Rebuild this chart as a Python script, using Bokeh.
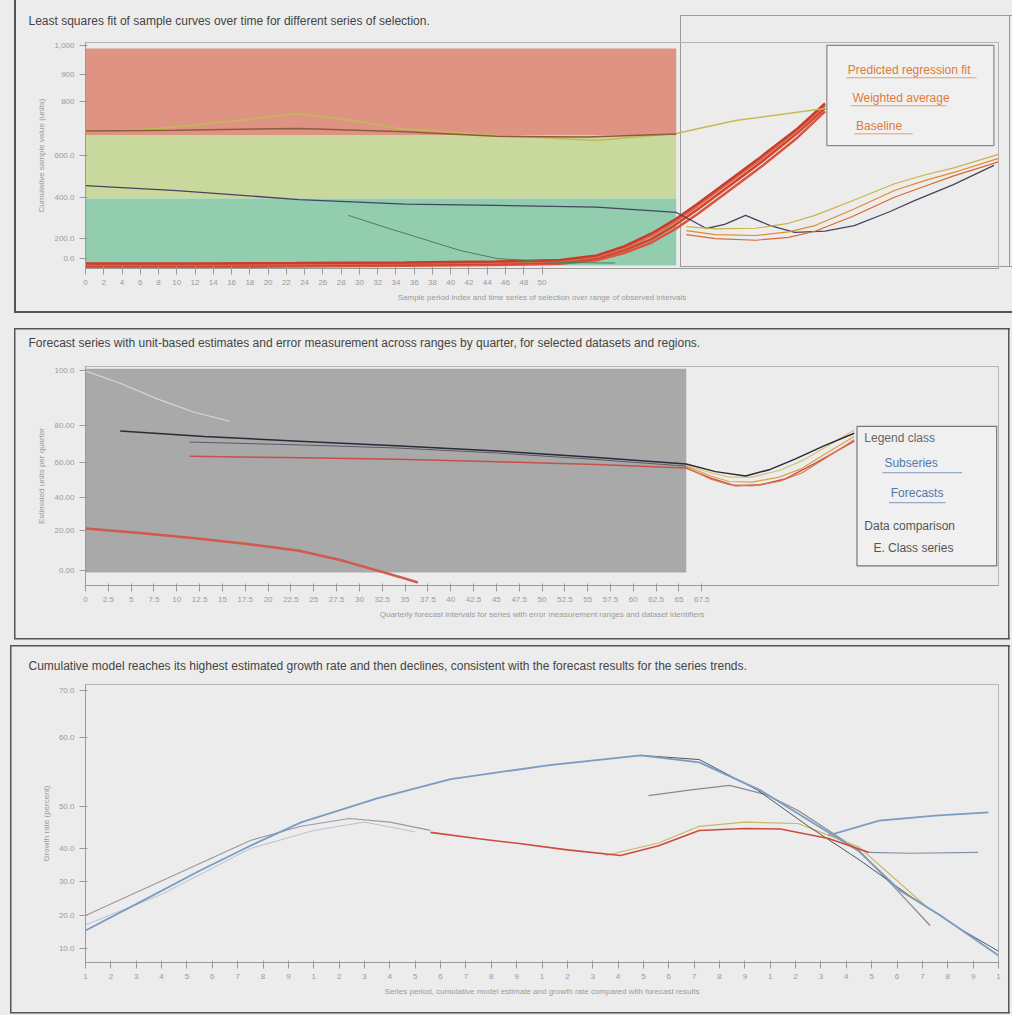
from bokeh.plotting import figure
from bokeh.layouts import column
from bokeh.models import FixedTicker, ColumnDataSource
from bokeh.embed import file_html
from bokeh.resources import INLINE
from bokeh.core.properties import value

BG = "#ececec"
FONT = "Liberation Sans"

# ---------------- Panel 1 data ----------------
p1_title = "Least squares fit of sample curves over time for different series of selection."
p1_band_left = [0, 0, 0]
p1_band_right = [64.7, 64.7, 64.7]
p1_band_top = [97.3, 58.8, 31.0]
p1_band_bottom = [58.8, 31.0, 1.3]
p1_band_colors = ["#df9383", "#c9d89c", "#93cdb0"]

p1_red_x = [0, 12, 23, 35, 45, 52, 56, 59, 62, 64.5, 67, 70, 74, 78, 81]
p1_red_a = [1.3, 1.3, 1.5, 1.8, 2.2, 2.8, 4.5, 8, 13, 19, 26, 35, 47, 60, 71]
p1_red_b = [2.2, 2.2, 2.4, 2.7, 3.1, 3.8, 5.8, 9.8, 15.5, 21.5, 28.5, 37.5, 49.5, 62, 73]
p1_red_c = [0.7, 0.7, 0.9, 1.2, 1.6, 2.1, 3.6, 6.8, 11.5, 17.2, 24, 33, 45, 58, 69.5]
p1_red_d = [1.8, 1.8, 2.0, 2.3, 2.7, 3.3, 5.2, 9.0, 14.5, 20.5, 27.5, 36.5, 48.5, 61, 72.2]

p1_olive_x = [0, 8, 16.8, 23.4, 30, 34.2, 45, 56, 64.7, 71.2, 81]
p1_olive_y = [60.5, 62, 65.5, 68.6, 65, 62, 59, 56.6, 59.7, 65.5, 70.8]

p1_brown_x = [0, 10, 23.4, 35, 45, 55, 64.7]
p1_brown_y = [60.8, 61.2, 62, 60.5, 58.5, 58.2, 59.5]

p1_dark_x = [0, 10, 23.4, 35, 45, 56, 64.7, 66.5, 68, 70, 72.3, 75, 77.7, 81, 84.2, 88, 90.8, 95, 99.5]
p1_dark_y = [36.7, 34.5, 30.5, 28.5, 27.9, 27.2, 24.8, 21, 17.7, 19.5, 23.5, 19, 16, 16.5, 19, 25, 30, 37, 45.6]

p1_orange_x = [65.8, 69, 73.4, 77, 79.9, 84, 88.6, 92, 95.1, 100]
p1_orange_a = [16.8, 15, 14.6, 16.2, 19, 26, 34.5, 39, 42.5, 48.7]
p1_orange_b = [18.5, 17.5, 17.8, 20, 23.5, 30, 37.5, 41.5, 44.5, 50.5]
p1_orange_c = [15.0, 13.2, 12.5, 13.8, 16.5, 23, 31.5, 36.5, 41, 47.2]

p1_green_x = [28.8, 33, 37.5, 41, 45.1, 51.6, 58]
p1_green_y = [23.5, 18, 12.4, 8, 4.4, 2.7, 2.4]

p1_legend_labels = ["Predicted regression fit", "Weighted average", "Baseline"]

# ---------------- Panel 2 data ----------------
p2_title = "Forecast series with unit-based estimates and error measurement across ranges by quarter, for selected datasets and regions."
p2_rect = [0, 65.8, 99.0, 5.9]

p2_dark_x = [3.8, 13, 23.4, 34, 45.1, 56, 65.8, 69, 72.3, 75, 77.7, 81, 84.2]
p2_dark_y = [70.5, 68, 65.9, 63.8, 61.4, 58.5, 55.5, 52, 50, 53, 57.7, 64, 69.5]
p2_dark2_x = [11.4, 23.4, 34, 45.1, 56, 65.8]
p2_dark2_y = [65.5, 64.2, 62.8, 60.5, 57.5, 54.5]

p2_red_x = [11.4, 22, 34.2, 45, 56, 65.8, 68.5, 71.2, 74, 76.6, 80, 84.2]
p2_red_y = [59, 58.4, 57.7, 56.5, 55.2, 53.6, 49, 45.5, 46, 48.6, 56, 65.9]

p2_orange_x = [65.8, 68.5, 70.5, 73, 76, 78.5, 81, 84.2]
p2_orange_a = [54.5, 50, 47.5, 47.2, 49.5, 53.5, 60, 68]
p2_orange_b = [54.0, 48.5, 46.0, 45.5, 47.5, 51.5, 58, 66.5]
p2_orange_c = [55.0, 51.5, 49.5, 49.5, 52.5, 57, 63, 71]

p2_light_x = [0, 4, 8, 12, 15.8]
p2_light_y = [98, 92, 85, 79, 75]

p2_lowred_x = [0, 6, 12.5, 18, 23.4, 28, 32, 34.5, 36.4]
p2_lowred_y = [26, 24, 21.4, 18.8, 15.9, 11.5, 6.8, 3.8, 1.4]

p2_legend_labels = ["Legend class", "Subseries", "Forecasts", "Data comparison", "E. Class series"]

# ---------------- Panel 3 data ----------------
p3_title = "Cumulative model reaches its highest estimated growth rate and then declines, consistent with the forecast results for the series trends."
p3_ticks = list(range(0, 37))

p3_blue_x = [0, 2, 4.5, 6.5, 8.5, 11.5, 14.4, 18.3, 21.9, 24.2, 26.6, 29.3, 30.5, 32.1, 33.7, 36]
p3_blue_y = [11.5, 21, 33, 42, 50.4, 59, 66, 71, 74.5, 72, 62, 46.8, 40, 26, 17, 2.5]
p3_blue2_x = [29.3, 31.3, 33.5, 35.6]
p3_blue2_y = [45.7, 51, 52.8, 54]

p3_red_x = [13.6, 15.5, 17.1, 19, 21.1, 22.6, 24.2, 26, 27.4, 29.3, 30.9]
p3_red_y = [46.8, 44.5, 42.8, 40.5, 38.5, 42, 47.5, 48.2, 48, 44.6, 39.6]

p3_olive_x = [20.5, 22.6, 24.2, 26, 28.1, 30.5, 33.3]
p3_olive_y = [38.5, 43, 49, 50.5, 50, 41.5, 19]

p3_gray_x = [0, 2.6, 6.5, 8.5, 10.4, 12, 13.6]
p3_gray_y = [16.9, 27.7, 43.9, 49, 51.8, 50.5, 47.5]
p3_gray2_x = [0, 3, 6.5, 9, 11, 13]
p3_gray2_y = [13.5, 24.5, 41, 47.5, 50.5, 47]
p3_gray3_x = [22.2, 23.8, 25.4, 26.8, 28.1, 30.5, 31.9, 33.3]
p3_gray3_y = [60, 62, 63.7, 60.5, 54.7, 40.3, 27, 13.3]
p3_dark_x = [21.9, 24.2, 26.5, 28.5, 30.5, 32.5, 34.5, 36.2]
p3_dark_y = [74.5, 73, 62, 49, 37, 24, 12, 3]
p3_slate_x = [30.9, 32.5, 35.2]
p3_slate_y = [39.6, 39.3, 39.6]


def css_lines(lines):
    """lines: list of (x, y, w, h, color) drawn as CSS background strips."""
    parts = []
    for (x, y, w, h, c) in lines:
        parts.append(f"linear-gradient({c},{c}) {x}px {y}px / {w}px {h}px no-repeat")
    return ", ".join(parts) + ", " + BG


def base_fig(width, height, left, right, top, bottom, xr, yr, title, standoff, lines):
    p = figure(width=width, height=height, x_range=xr, y_range=yr,
               output_backend="svg", toolbar_location=None,
               min_border_left=left, min_border_right=right,
               min_border_top=top, min_border_bottom=bottom,
               title=title)
    p.background_fill_alpha = 0
    p.border_fill_alpha = 0
    p.styles = {"background": css_lines(lines)}
    p.outline_line_color = "#b5b5b5"
    p.grid.visible = False
    p.title.text_font = FONT
    p.title.text_font_size = "12px"
    p.title.text_font_style = "normal"
    p.title.text_color = "#444444"
    p.title.align = "left"
    p.title.vertical_align = "top"
    p.title.offset = -57
    p.title.standoff = standoff
    for ax in (p.xaxis[0], p.yaxis[0]):
        ax.axis_line_color = "#9a9a9a"
        ax.major_tick_line_color = "#9a9a9a"
        ax.minor_tick_line_color = None
        ax.major_label_text_font = FONT
        ax.major_label_text_color = "#9a9a9a"
        ax.major_label_text_font_size = "8px"
        ax.axis_label_text_font = FONT
        ax.axis_label_text_color = "#9a9a9a"
        ax.axis_label_text_font_size = "8px"
        ax.axis_label_text_font_style = "normal"
    return p


DK = "#555555"
LG = "#9a9a9a"

# ================ Panel 1 ================
p1_frame = [(14, 0, 2, 312, DK), (14, 311, 998, 2, DK),
            (680, 15, 332, 1, LG), (680, 266, 332, 1, LG), (680, 15, 1, 252, LG), (1009, 15, 1, 252, LG)]
p1 = base_fig(1012, 320, 85, 7, 42, 52, (0, 100), (0, 100), p1_title, 25, p1_frame)
p1.quad(left=p1_band_left, right=p1_band_right, top=p1_band_top, bottom=p1_band_bottom,
        color=p1_band_colors, line_color=None)
for ys, c in [(p1_red_c, "#d9553f"), (p1_red_a, "#cf4431"), (p1_red_d, "#e06a4f"), (p1_red_b, "#c83c2e")]:
    p1.line(p1_red_x, ys, line_color=c, line_width=2.5)
p1.line(p1_olive_x, p1_olive_y, line_color="#c2bb55", line_width=1.5)
p1.line(p1_brown_x, p1_brown_y, line_color="#8e5b3e", line_width=1.5)
p1.line(p1_dark_x, p1_dark_y, line_color="#45455e", line_width=1.3)
for ys, c in [(p1_orange_a, "#e08a30"), (p1_orange_b, "#c9b24a"), (p1_orange_c, "#d66a30")]:
    p1.line(p1_orange_x, ys, line_color=c, line_width=1.2)
p1.line(p1_green_x, p1_green_y, line_color="#4e7d5e", line_width=1)
p1.yaxis.ticker = FixedTicker(ticks=[4.4, 13.3, 31.4, 50, 74, 86, 98.7])
p1.yaxis.major_label_overrides = {4.4: "0.0", 13.3: "200.0", 31.4: "400.0", 50: "600.0",
                                  74: "800", 86: "900", 98.7: "1,000"}
p1.yaxis.axis_label = "Cumulative sample value (units)"
p1.xaxis.ticker = FixedTicker(ticks=[i * 2 for i in range(26)])
p1.xaxis.axis_label = "Sample period index and time series of selection over range of observed intervals"
p1.quad(left=[81.2], right=[99.5], bottom=[54.4], top=[98.7],
        fill_color="#f0f0f0", line_color="#888888", line_width=1.2)
leg1 = ColumnDataSource(dict(x=[83.5, 84, 84.4], y=[88, 75.6, 63.2], t=p1_legend_labels,
                             x0=[83.3, 83.8, 84.2], x1=[97.6, 94.3, 90.6], yl=[84.4, 72.0, 59.6]))
p1.text(x="x", y="y", text="t", source=leg1, text_color="#e07a3c",
        text_font=value(FONT), text_font_size="12px", text_baseline="middle")
p1.segment(x0="x0", y0="yl", x1="x1", y1="yl", source=leg1, line_color="#e0a070", line_width=1)

# ================ Panel 2 ================
p2_frame = [(14, 8, 996, 1.5, DK), (14, 318, 996, 1.5, DK), (14, 8, 1.5, 311, DK), (1008, 8, 1.5, 311, DK)]
p2 = base_fig(1012, 325, 85, 7, 45, 60, (0, 100), (0, 100), p2_title, 30, p2_frame)
p2.quad(left=[p2_rect[0]], right=[p2_rect[1]], top=[p2_rect[2]], bottom=[p2_rect[3]],
        color="#a9a9a9", line_color=None)
p2.line(p2_light_x, p2_light_y, line_color="#d8d8c8", line_width=1.2)
p2.line(p2_dark2_x, p2_dark2_y, line_color="#5a5a6a", line_width=1)
p2.line(p2_red_x, p2_red_y, line_color="#c8504a", line_width=1.5)
for ys, c in [(p2_orange_a, "#d9a24a"), (p2_orange_b, "#e07a40"), (p2_orange_c, "#d8c070")]:
    p2.line(p2_orange_x, ys, line_color=c, line_width=1.2)
p2.line(p2_dark_x, p2_dark_y, line_color="#2a2a3a", line_width=1.5)
p2.line(p2_lowred_x, p2_lowred_y, line_color="#d05a4e", line_width=2.5)
p2.yaxis.ticker = FixedTicker(ticks=[6.8, 25, 40, 56, 73, 98])
p2.yaxis.major_label_overrides = {6.8: "0.00", 25: "20.00", 40: "40.00", 56: "60.00",
                                  73: "80.00", 98: "100.0"}
p2.yaxis.axis_label = "Estimated units per quarter"
p2.xaxis.ticker = FixedTicker(ticks=[i * 2.5 for i in range(28)])
p2.xaxis.axis_label = "Quarterly forecast intervals for series with error measurement ranges and dataset identifiers"
p2.quad(left=[84.5], right=[99.8], bottom=[9], top=[72.7],
        fill_color="#f0f0f0", line_color="#777777", line_width=1.2)
leg2 = ColumnDataSource(dict(x=[85.3, 87.5, 88.2, 85.3, 86.3], y=[67.5, 55.8, 42.2, 27.3, 17.3],
                             t=p2_legend_labels,
                             c=["#666666", "#5577aa", "#5577aa", "#555555", "#555555"]))
p2.text(x="x", y="y", text="t", source=leg2, text_color="c",
        text_font=value(FONT), text_font_size="12px", text_baseline="middle")
p2.segment(x0=[87.3, 88.0], y0=[51.5, 37.8], x1=[96.0, 94.2], y1=[51.5, 37.8],
           line_color="#7f97bb", line_width=1)

# ================ Panel 3 ================
p3_frame = [(10, 0, 1000, 1.5, DK), (10, 367, 1000, 1.5, DK), (10, 0, 1.5, 368, DK), (1008, 0, 1.5, 368, DK)]
p3 = base_fig(1012, 370, 85, 14, 39, 53, (0, 36), (0, 100), p3_title, 20, p3_frame)
p3.line(p3_gray2_x, p3_gray2_y, line_color="#b8c0cc", line_width=1)
p3.line(p3_gray_x, p3_gray_y, line_color="#9a9a9a", line_width=1.2)
p3.line(p3_gray3_x, p3_gray3_y, line_color="#8a8a8a", line_width=1.2)
p3.line(p3_olive_x, p3_olive_y, line_color="#c8b860", line_width=1.2)
p3.line(p3_dark_x, p3_dark_y, line_color="#555555", line_width=1)
p3.line(p3_blue_x, p3_blue_y, line_color="#7b9cc2", line_width=1.8)
p3.line(p3_blue2_x, p3_blue2_y, line_color="#7b9cc2", line_width=1.8)
p3.line(p3_red_x, p3_red_y, line_color="#cf4a3e", line_width=1.6)
p3.line(p3_slate_x, p3_slate_y, line_color="#8090a8", line_width=1.2)
p3.yaxis.ticker = FixedTicker(ticks=[-1, 5, 17, 29, 41, 56, 81, 98])
p3.yaxis.major_label_overrides = {-1: "0.0", 5: "10.0", 17: "20.0", 29: "30.0", 41: "40.0",
                                  56: "50.0", 81: "60.0", 98: "70.0"}
p3.yaxis.axis_label = "Growth rate (percent)"
p3.xaxis.ticker = FixedTicker(ticks=p3_ticks)
p3.xaxis.major_label_overrides = {t: str((t % 9) + 1) for t in p3_ticks}
p3.xaxis.axis_label = "Series period, cumulative model estimate and growth rate compared with forecast results"

layout = column(p1, p2, p3, spacing=0)
open("out.html", "w").write(file_html(layout, INLINE))
